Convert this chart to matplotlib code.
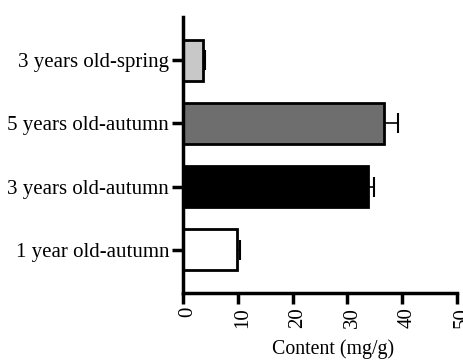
import matplotlib
matplotlib.use("Agg")
import matplotlib.pyplot as plt
from matplotlib.transforms import ScaledTranslation

categories = ["1 year old-autumn", "3 years old-autumn", "5 years old-autumn", "3 years old-spring"]
values = [9.9, 33.8, 36.6, 3.7]
errors = [0.5, 1.1, 2.6, 0.3]
colors = ["#ffffff", "#000000", "#6e6e6e", "#c8c8c8"]
xticks = [0, 10, 20, 30, 40, 50]

plt.rcParams['font.family'] = ['Liberation Serif', 'DejaVu Serif']

fig = plt.figure(figsize=(4.63, 3.6), dpi=100)
ax = fig.add_axes([183/463, 1-293/360, (457-183)/463, (293-17)/360])

y = list(range(len(categories)))
ax.barh(y, values, height=0.64, color=colors, edgecolor="black", linewidth=2.0, zorder=2)
ax.errorbar(values, y, xerr=[[0]*len(errors), errors], fmt='none', ecolor='black',
            elinewidth=1.2, capsize=7.5, capthick=1.5, zorder=1)

ax.set_xlim(0, 50)
ax.set_ylim(-0.69, 3.69)
ax.set_xticks(xticks)
ax.set_xticklabels([str(t) for t in xticks], rotation=90, fontsize=15)
ax.set_yticks(y)
ax.set_yticklabels(categories, fontsize=15)
ax.set_xlabel("Content (mg/g)", fontsize=14.3)
ax.xaxis.set_label_coords(0.547, -0.168)

for s in ["top", "right"]:
    ax.spines[s].set_visible(False)
for s in ["left", "bottom"]:
    ax.spines[s].set_linewidth(2.5)
ax.tick_params(axis='both', width=2.5, length=8, pad=2)

fig.canvas.draw()
offset = ScaledTranslation(5/100, 0, fig.dpi_scale_trans)
for tick in ax.xaxis.get_major_ticks():
    tick.label1.set_transform(tick.label1.get_transform() + offset)

fig.savefig("out.png", dpi=100)
